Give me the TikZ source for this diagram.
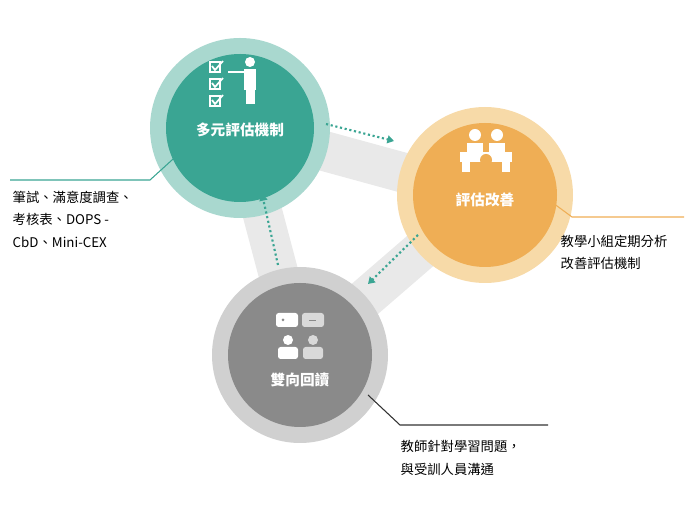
\documentclass[tikz,border=0pt]{standalone}
\usepackage{fontspec}
\setmainfont{Noto Sans CJK TC}
\usetikzlibrary{arrows.meta}
\definecolor{tealin}{HTML}{3AA593}
\definecolor{tealout}{HTML}{A9D8CF}
\definecolor{orgin}{HTML}{EFAE55}
\definecolor{orgout}{HTML}{F7DAA8}
\definecolor{grayin}{HTML}{8A8A8A}
\definecolor{grayout}{HTML}{D0D0D0}
\definecolor{bandgray}{HTML}{E9E9E9}
\tikzset{
  band/.style={line width=30pt, bandgray},
  flow/.style={tealin, line width=1.6pt, dotted, -{Triangle[length=5pt,width=6pt]}},
  callout/.style={line width=0.8pt},
  title/.style={white, font=\bfseries\fontsize{11}{13}\selectfont},
  note/.style={align=left, anchor=north west, font=\fontsize{10}{17}\selectfont}
}
\begin{document}
\begin{tikzpicture}[x=0.75pt,y=-0.75pt]
  \useasboundingbox (0,0) rectangle (697,505);
  \coordinate (ctA) at (240,128);
  \coordinate (ctB) at (485,195);
  \coordinate (ctC) at (300,355);
  % bands
  \draw[band] (ctA) -- (ctB) -- (ctC) -- cycle;
  % circles
  \fill[tealout] (ctA) circle (90);
  \fill[tealin] (ctA) circle (74);
  \fill[orgout] (ctB) circle (88);
  \fill[orgin] (ctB) circle (72);
  \fill[grayout] (ctC) circle (88);
  \fill[grayin] (ctC) circle (72);
  % titles
  \node[title] (ta) at (240,130) {多元評估機制};
  \node[title] (tb) at (485,200) {評估改善};
  \node[title] (tc) at (300,380) {雙向回讀};
  % icon: checklist and presenter
  \foreach \yy in {62,79,96}{
    \draw[white, line width=1pt] (210,\yy) rectangle ++(10,10);
    \draw[white, line width=1.3pt] (212,\yy+4) -- (215,\yy+8) -- (223,\yy-1);
  }
  \fill[white] (250,62) circle (5);
  \fill[white] (244,69) rectangle (256,90);
  \fill[white] (246,90) rectangle (255,104);
  \draw[white, line width=2pt] (244,72) -- (228,72);
  % icon: meeting
  \fill[white] (475,135) circle (6);
  \fill[white] (497,135) circle (6);
  \fill[white] (467,143) rectangle (483,152);
  \fill[white] (489,143) rectangle (505,152);
  \fill[white] (460,152) rectangle (512,162);
  \fill[orgin] (486,160) circle (6);
  \fill[white] (462,162) rectangle (470,172);
  \fill[white] (502,162) rectangle (510,172);
  % icon: dialogue
  \fill[white, rounded corners=2pt] (276,313) rectangle (298,327);
  \fill[white!85!black, rounded corners=2pt] (302,313) rectangle (324,327);
  \fill[grayin] (283,320) circle (1.5);
  \fill[grayin] (309,320) rectangle (316,321.5);
  \fill[white] (288,340) circle (5);
  \fill[white!85!black] (313,340) circle (5);
  \fill[white, rounded corners=2pt] (278,347) rectangle (298,359);
  \fill[white!85!black, rounded corners=2pt] (303,347) rectangle (323,359);
  % flows
  \draw[flow] (326,124) -- (394,141);
  \draw[flow] (418,235) -- (368,284);
  \draw[flow] (278,265) -- (262,194);
  % callouts
  \coordinate (pa) at (10,180);
  \coordinate (pb) at (684,217);
  \coordinate (pc) at (548,425);
  \draw[callout, tealin] (pa) -- (150,180) -- (183,150);
  \draw[callout, orgin] (pb) -- (572,217) -- (553,203);
  \draw[callout, black!80] (pc) -- (400,425) -- (368,395);
  \node[note] (na) at (8,186) {筆試、滿意度調查、\\考核表、DOPS -\\CbD、Mini-CEX};
  \node[note] (nb) at (556,230) {教學小組定期分析\\改善評估機制};
  \node[note] (nc) at (396,436) {教師針對學習問題，\\與受訓人員溝通};
\end{tikzpicture}
\end{document}
